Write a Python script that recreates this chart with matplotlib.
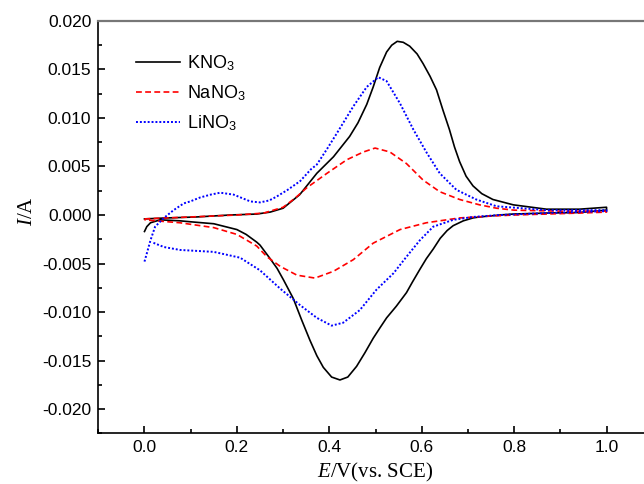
import numpy as np
import matplotlib.pyplot as plt
from matplotlib.ticker import MultipleLocator, FormatStrFormatter

plt.rcParams['font.family'] = ['Liberation Sans', 'DejaVu Sans']
plt.rcParams['mathtext.fontset'] = 'custom'
plt.rcParams['mathtext.it'] = 'Liberation Serif:italic'
plt.rcParams['mathtext.rm'] = 'Liberation Serif'
plt.rcParams['mathtext.sf'] = 'Liberation Sans'
plt.rcParams['axes.unicode_minus'] = False

# KNO3 (forward scan then reverse scan)
kno3_fwd_x = [0.0, 0.05, 0.113, 0.185, 0.243, 0.272, 0.3, 0.336, 0.373, 0.409, 0.444, 0.462,
              0.481, 0.495, 0.509, 0.524, 0.535, 0.547, 0.56, 0.574, 0.59, 0.603, 0.618, 0.632,
              0.646, 0.66, 0.671, 0.682, 0.696, 0.711, 0.73, 0.754, 0.798, 0.87, 0.941, 1.0]
kno3_fwd_y = [-0.0004, -0.0003, -0.0002, 0.0, 0.0001, 0.0003, 0.0007, 0.0021, 0.0043, 0.006, 0.0081, 0.0095,
              0.0114, 0.0132, 0.0152, 0.0168, 0.0175, 0.0179, 0.0178, 0.0174, 0.0166, 0.0156, 0.0143, 0.0129,
              0.0108, 0.0088, 0.0070, 0.0055, 0.0040, 0.0030, 0.0022, 0.0016, 0.00105, 0.0006, 0.0006, 0.0008]
kno3_rev_x = [1.0, 0.941, 0.87, 0.798, 0.769, 0.725, 0.711, 0.69, 0.668, 0.655, 0.64, 0.625, 0.61, 0.596,
              0.58, 0.567, 0.545, 0.524, 0.51, 0.495, 0.477, 0.459, 0.44, 0.423, 0.405, 0.387, 0.373,
              0.358, 0.34, 0.322, 0.301, 0.287, 0.272, 0.25, 0.243, 0.22, 0.2, 0.15, 0.1, 0.077, 0.034,
              0.013, 0.005, 0.0]
kno3_rev_y = [0.0005, 0.00026, 0.0002, 0.0001, 0.0, -0.0002, -0.0003, -0.0006, -0.0011, -0.0016, -0.0024,
              -0.0035, -0.0045, -0.0056, -0.0069, -0.0080, -0.0094, -0.0106, -0.0116, -0.0127, -0.0142,
              -0.0156, -0.0167, -0.0170, -0.0167, -0.0157, -0.0145, -0.0129, -0.0108, -0.0086, -0.0067,
              -0.0055, -0.0045, -0.0031, -0.0028, -0.0020, -0.0015, -0.0009, -0.0007, -0.0006, -0.0005,
              -0.0008, -0.0012, -0.0017]

# NaNO3
nano3_fwd_x = [0.0, 0.1, 0.2, 0.258, 0.3, 0.325, 0.351, 0.395, 0.438, 0.474, 0.499, 0.531, 0.567,
               0.603, 0.639, 0.682, 0.725, 0.762, 0.8, 0.9, 1.0]
nano3_fwd_y = [-0.0004, -0.0002, 0.0, 0.0002, 0.0008, 0.0017, 0.0028, 0.0043, 0.0057, 0.0065, 0.0069,
               0.0065, 0.0053, 0.0036, 0.0024, 0.0016, 0.00105, 0.0007, 0.0005, 0.0004, 0.0004]
nano3_rev_x = [1.0, 0.94, 0.8, 0.754, 0.682, 0.61, 0.553, 0.495, 0.452, 0.409, 0.369, 0.33, 0.294,
               0.265, 0.243, 0.2, 0.15, 0.077, 0.0]
nano3_rev_y = [0.0003, 0.0002, 0.0, -0.0001, -0.0003, -0.0008, -0.0015, -0.0029, -0.0046, -0.0058,
               -0.0065, -0.0062, -0.0053, -0.0043, -0.0032, -0.0020, -0.0013, -0.0008, -0.0005]

# LiNO3
lino3_fwd_x = [0.0, 0.006, 0.013, 0.023, 0.042, 0.063, 0.085, 0.099, 0.12, 0.143, 0.164, 0.193, 0.229,
               0.25, 0.27, 0.286, 0.31, 0.337, 0.36, 0.373, 0.395, 0.416, 0.452, 0.481, 0.506, 0.524,
               0.553, 0.582, 0.611, 0.639, 0.675, 0.718, 0.762, 0.87, 1.0]
lino3_fwd_y = [-0.0048, -0.0038, -0.0026, -0.0012, -0.0003, 0.0005, 0.0012, 0.0014, 0.0018, 0.0021,
               0.0023, 0.0021, 0.0014, 0.0013, 0.0015, 0.0019, 0.0026, 0.0035, 0.0047, 0.0052, 0.0068,
               0.0084, 0.0112, 0.0132, 0.0142, 0.0138, 0.0115, 0.0088, 0.0064, 0.0043, 0.0026, 0.0016,
               0.0009, 0.0005, 0.0005]
lino3_rev_x = [1.0, 0.87, 0.769, 0.711, 0.668, 0.625, 0.596, 0.567, 0.539, 0.502, 0.466, 0.43, 0.405,
               0.373, 0.337, 0.294, 0.25, 0.207, 0.15, 0.077, 0.042, 0.016]
lino3_rev_y = [0.0004, 0.0002, 0.0, -0.0002, -0.0005, -0.0012, -0.0026, -0.0043, -0.0060, -0.0077,
               -0.0098, -0.0111, -0.0114, -0.0106, -0.0093, -0.0076, -0.0057, -0.0044, -0.0038, -0.0036,
               -0.0033, -0.0028]

fig = plt.figure(figsize=(6.44, 4.84), dpi=100)
ax = fig.add_axes([0.1526, 0.1047, 0.861, 0.852])

ax.plot(kno3_fwd_x + kno3_rev_x, kno3_fwd_y + kno3_rev_y, color='black', lw=1.2,
        label=r'KNO$_\mathsf{3}$')
ax.plot(nano3_fwd_x + nano3_rev_x, nano3_fwd_y + nano3_rev_y, color='#ff0000', lw=1.2,
        linestyle=(0, (3.5, 2)), label=r'NaNO$_\mathsf{3}$')
ax.plot(lino3_fwd_x + lino3_rev_x, lino3_fwd_y + lino3_rev_y, color='#0000ff', lw=1.4,
        linestyle=(0, (1, 1)), label=r'LiNO$_\mathsf{3}$')

ax.set_xlim(-0.1, 1.1)
ax.set_ylim(-0.0225, 0.020)
ax.xaxis.set_major_locator(MultipleLocator(0.2))
ax.xaxis.set_minor_locator(MultipleLocator(0.1))
ax.yaxis.set_major_locator(MultipleLocator(0.005))
ax.yaxis.set_minor_locator(MultipleLocator(0.0025))
ax.xaxis.set_major_formatter(FormatStrFormatter('%.1f'))
ax.yaxis.set_major_formatter(FormatStrFormatter('%.3f'))
ax.tick_params(which='both', direction='in', top=False, right=False, labelsize=12.5, width=1.2)
ax.tick_params(which='major', length=5, pad=5)
ax.tick_params(which='minor', length=3)

for s in ['left', 'bottom']:
    ax.spines[s].set_linewidth(1.2)
ax.spines['top'].set_color('#777777')
ax.spines['top'].set_linewidth(1.6)
ax.spines['right'].set_visible(False)

ax.set_xlabel(r'$E$/V(vs. SCE)', family='Liberation Serif', fontsize=15)
ax.set_ylabel(r'$I$/A', family='Liberation Serif', fontsize=15)
ax.xaxis.set_label_coords(0.5, -0.066)
ax.yaxis.set_label_coords(-0.11, 0.54)

ax.legend(loc='upper left', bbox_to_anchor=(0.055, 0.94), frameon=False, fontsize=13,
          handlelength=2.45, handletextpad=0.4, labelspacing=0.57, borderaxespad=0)

plt.savefig('out.png', dpi=100)
